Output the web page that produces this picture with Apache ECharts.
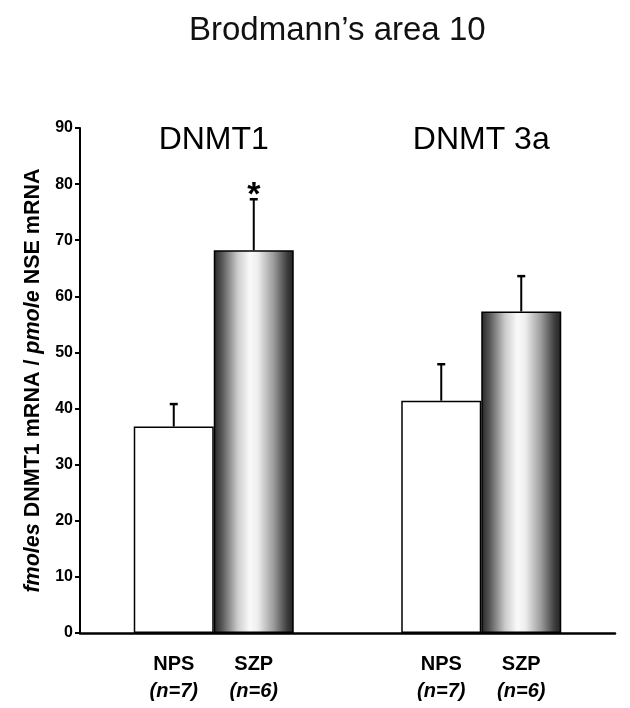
<!DOCTYPE html>
<html>
<head>
<meta charset="utf-8">
<script src="https://cdn.jsdelivr.net/npm/echarts@6/dist/echarts.min.js"></script>
<style>
  html, body { margin: 0; padding: 0; background: #fff; }
  #chart { width: 630px; height: 708px; }
</style>
</head>
<body>
<div id="chart"></div>
<script>
// ---- data ----
const groups = ['DNMT1', 'DNMT 3a'];
const conditions = ['NPS', 'SZP'];
const sampleSizes = [7, 6];
const npsMeans = [36.8, 41.4];
const npsSem = [4.0, 6.5];
const szpMeans = [68.2, 57.3];
const szpSem = [9.1, 6.3];
const szpSignificant = [true, false];
const yMin = 0, yMax = 90, yInterval = 10;
const titleText = 'Brodmann\u2019s area 10';
const yAxisName = '{i|fmoles}{b| DNMT1 mRNA / }{i|pmole}{b| NSE mRNA}';

const FONT = '"Liberation Sans", Arial, Helvetica, sans-serif';
const BAR_W = 80;

const errData = [];
groups.forEach((g, i) => {
  errData.push([i, npsMeans[i], npsMeans[i] + npsSem[i], 0, 0]);
  errData.push([i, szpMeans[i], szpMeans[i] + szpSem[i], 1, szpSignificant[i] ? 1 : 0]);
});

const chart = echarts.init(document.getElementById('chart'), null, { renderer: 'canvas' });

const szpGradient = new echarts.graphic.LinearGradient(0, 0, 1, 0, [
  { offset: 0, color: '#262626' },
  { offset: 0.1, color: '#555555' },
  { offset: 0.3, color: '#cccccc' },
  { offset: 0.45, color: '#fafafa' },
  { offset: 0.55, color: '#eeeeee' },
  { offset: 0.75, color: '#9a9a9a' },
  { offset: 0.92, color: '#3c3c3c' },
  { offset: 1, color: '#222222' }
]);

chart.setOption({
  animation: false,
  backgroundColor: '#ffffff',
  textStyle: { fontFamily: FONT },
  title: {
    text: titleText,
    left: 184,
    top: 9,
    textStyle: { fontFamily: FONT, fontSize: 33, fontWeight: 'normal', color: '#111' }
  },
  grid: { left: 80, right: 15, top: 128, bottom: 75, containLabel: false },
  xAxis: [
    {
      type: 'category',
      data: groups,
      position: 'bottom',
      axisLine: { lineStyle: { color: '#000', width: 2.5 } },
      axisTick: { show: false },
      axisLabel: {
        margin: 18,
        formatter: function (v, idx) {
          const l1 = conditions.map(c => '{c|' + c + '}').join('');
          const l2 = sampleSizes.map(n => '{n|(n=' + n + ')}').join('');
          return l1 + '\n' + l2;
        },
        rich: {
          c: { width: BAR_W, align: 'center', fontFamily: FONT, fontSize: 20, fontWeight: 'bold', color: '#000', lineHeight: 27 },
          n: { width: BAR_W, align: 'center', fontFamily: FONT, fontSize: 20, fontWeight: 'bold', fontStyle: 'italic', color: '#000', lineHeight: 27 }
        }
      }
    },
    {
      type: 'category',
      data: groups,
      position: 'top',
      axisLine: { show: false },
      axisTick: { show: false },
      axisLabel: {
        inside: true,
        margin: -4,
        fontFamily: FONT,
        fontSize: 32,
        color: '#000'
      }
    }
  ],
  yAxis: {
    type: 'value',
    min: yMin,
    max: yMax,
    interval: yInterval,
    name: yAxisName,
    nameLocation: 'middle',
    nameGap: 28,
    nameTextStyle: {
      rich: {
        i: { fontFamily: FONT, fontSize: 21.5, fontWeight: 'bold', fontStyle: 'italic', color: '#000' },
        b: { fontFamily: FONT, fontSize: 21.5, fontWeight: 'bold', color: '#000' }
      }
    },
    splitLine: { show: false },
    axisLine: { show: true, lineStyle: { color: '#000', width: 2 } },
    axisTick: { show: true, length: 5, lineStyle: { color: '#000', width: 2 } },
    axisLabel: { margin: 7, fontFamily: FONT, fontSize: 16, fontWeight: 'bold', color: '#000' }
  },
  series: [
    {
      name: conditions[0],
      type: 'bar',
      data: npsMeans,
      barWidth: BAR_W,
      barGap: '0%',
      itemStyle: { color: '#ffffff', borderColor: '#000', borderWidth: 1.5 },
      z: 2
    },
    {
      name: conditions[1],
      type: 'bar',
      data: szpMeans,
      barWidth: BAR_W,
      barGap: '0%',
      itemStyle: { color: szpGradient, borderColor: '#000', borderWidth: 1.5 },
      z: 2
    },
    {
      type: 'custom',
      data: errData,
      encode: { x: 0, y: 2 },
      z: 3,
      renderItem: function (params, api) {
        const cat = api.value(0);
        const mean = api.value(1);
        const top = api.value(2);
        const side = api.value(3);
        const sig = api.value(4);
        const base = api.coord([cat, mean]);
        const tip = api.coord([cat, top]);
        const x = base[0] + (side === 0 ? -BAR_W / 2 : BAR_W / 2);
        const children = [
          { type: 'line', shape: { x1: x, y1: base[1], x2: x, y2: tip[1] }, style: { stroke: '#000', lineWidth: 2 } },
          { type: 'line', shape: { x1: x - 4, y1: tip[1], x2: x + 4, y2: tip[1] }, style: { stroke: '#000', lineWidth: 2.5 } }
        ];
        if (sig) {
          children.push({
            type: 'text',
            style: {
              text: '*', x: x, y: tip[1] - 4,
              align: 'center', verticalAlign: 'middle',
              font: 'bold 34px ' + FONT, fill: '#000'
            }
          });
        }
        return { type: 'group', children: children };
      }
    }
  ]
});
</script>
</body>
</html>
